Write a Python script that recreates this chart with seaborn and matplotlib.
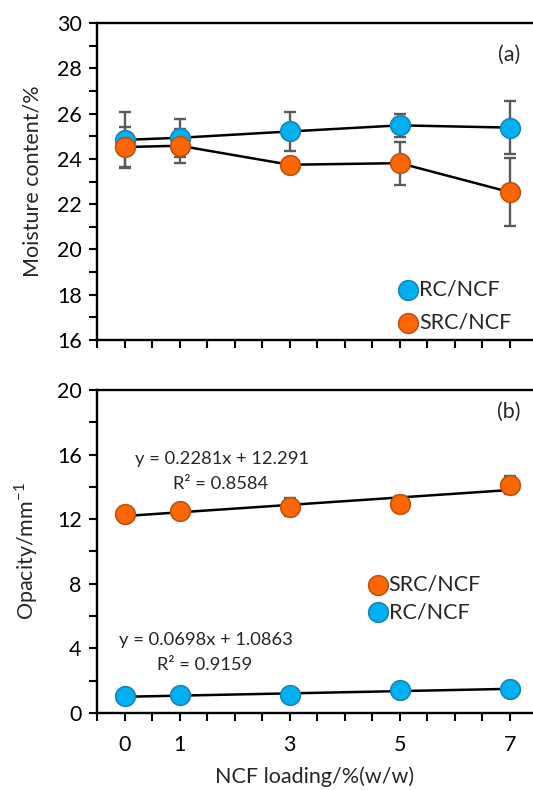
import numpy as np
import pandas as pd
import matplotlib
matplotlib.use("Agg")
import matplotlib.pyplot as plt
import seaborn as sns
from matplotlib.ticker import MultipleLocator, FixedLocator

# ---------------- data ----------------
loading = [0, 1, 3, 5, 7]
rc_moisture = [24.84, 24.93, 25.21, 25.48, 25.38]
rc_moisture_err = [1.25, 0.85, 0.88, 0.50, 1.18]
src_moisture = [24.52, 24.58, 23.74, 23.81, 22.53]
src_moisture_err = [0.90, 0.76, 0.25, 0.95, 1.50]

src_opacity = [12.32, 12.48, 12.77, 12.96, 14.12]
src_opacity_err = [0.45, 0.25, 0.55, 0.50, 0.55]
rc_opacity = [1.03, 1.10, 1.10, 1.41, 1.50]
rc_opacity_err = [0.10, 0.10, 0.10, 0.12, 0.12]

series_names = ["RC/NCF", "SRC/NCF"]
xtick_labels = ["0", "1", "3", "5", "7"]
eq_src = ["y = 0.2281x + 12.291", "R\u00b2 = 0.8584"]
eq_rc = ["y = 0.0698x + 1.0863", "R\u00b2 = 0.9159"]

# ---------------- style ----------------
sns.set_style("ticks")
FONT = ["Lato", "DejaVu Sans"]
plt.rcParams["font.family"] = FONT
plt.rcParams["mathtext.fontset"] = "custom"
plt.rcParams["mathtext.rm"] = "Lato"

BLUE, BLUE_E = "#00B0F0", "#1A84B4"
ORANGE, ORANGE_E = "#FF6600", "#BF5212"
ERRC = "#5A5A5A"
FS = 15.5
FS_EQ = 13.2

fig = plt.figure(figsize=(5.33, 7.90), dpi=100)
ax1 = fig.add_axes([0.182, 0.5696, 0.818, 0.4013])
ax2 = fig.add_axes([0.182, 0.0975, 0.818, 0.4089])

df_m = pd.DataFrame({
    "loading": loading * 2,
    "value": rc_moisture + src_moisture,
    "err": rc_moisture_err + src_moisture_err,
    "series": [series_names[0]] * 5 + [series_names[1]] * 5,
})

pal = {series_names[0]: BLUE, series_names[1]: ORANGE}
edges = {series_names[0]: BLUE_E, series_names[1]: ORANGE_E}

# ----- panel (a) -----
for name in series_names:
    d = df_m[df_m["series"] == name]
    ax1.errorbar(d["loading"], d["value"], yerr=d["err"], fmt="none",
                 ecolor=ERRC, elinewidth=1.7, capsize=4.5, capthick=1.7, zorder=2)
    sns.lineplot(data=d, x="loading", y="value", ax=ax1, color="black",
                 linewidth=1.8, zorder=3, legend=False)
    sns.scatterplot(data=d, x="loading", y="value", ax=ax1, color=pal[name],
                    edgecolor=edges[name], linewidth=1.2, s=200, zorder=4,
                    label=name)

ax1.set_ylim(16, 30)
ax1.yaxis.set_major_locator(MultipleLocator(2))
ax1.yaxis.set_minor_locator(MultipleLocator(1))
ax1.set_ylabel("Moisture content/%", fontsize=FS, labelpad=10)
ax1.set_xlabel("")
ax1.legend(loc="lower left", bbox_to_anchor=(0.655, -0.025), frameon=False,
           fontsize=FS, handletextpad=0.0, labelspacing=0.6,
           borderaxespad=0.3, handlelength=1.0)
ax1.text(0.945, 0.899, "(a)", transform=ax1.transAxes, ha="center", va="center",
         fontsize=FS)

# ----- panel (b) -----
df_o = pd.DataFrame({
    "loading": loading * 2,
    "value": src_opacity + rc_opacity,
    "err": src_opacity_err + rc_opacity_err,
    "series": [series_names[1]] * 5 + [series_names[0]] * 5,
})
for name in [series_names[1], series_names[0]]:
    d = df_o[df_o["series"] == name]
    ax2.errorbar(d["loading"], d["value"], yerr=d["err"], fmt="none",
                 ecolor=ERRC, elinewidth=1.7, capsize=4.5, capthick=1.7, zorder=2)
    sns.regplot(data=d, x="loading", y="value", ax=ax2, ci=None, scatter=False,
                truncate=True, line_kws=dict(color="black", linewidth=1.8, zorder=3))
    sns.scatterplot(data=d, x="loading", y="value", ax=ax2, color=pal[name],
                    edgecolor=edges[name], linewidth=1.2, s=200, zorder=4,
                    label=name)

ax2.set_ylim(0, 20)
ax2.yaxis.set_major_locator(MultipleLocator(4))
ax2.yaxis.set_minor_locator(MultipleLocator(2))
ax2.set_ylabel(r"Opacity/mm$^{\mathregular{-1}}$", fontsize=FS, labelpad=12)
ax2.set_xlabel("NCF loading/%(w/w)", fontsize=FS, labelpad=8)
ax2.legend(loc="center left", bbox_to_anchor=(0.575, 0.355), frameon=False,
           fontsize=FS, handletextpad=0.0, labelspacing=0.35,
           handlelength=1.0)
ax2.text(0.945, 0.932, "(b)", transform=ax2.transAxes, ha="center", va="center",
         fontsize=FS)
ax2.text(0.088, 0.786, eq_src[0], transform=ax2.transAxes, fontsize=FS_EQ, va="center")
ax2.text(0.175, 0.709, eq_src[1], transform=ax2.transAxes, fontsize=FS_EQ, va="center")
ax2.text(0.050, 0.226, eq_rc[0], transform=ax2.transAxes, fontsize=FS_EQ, va="center")
ax2.text(0.137, 0.149, eq_rc[1], transform=ax2.transAxes, fontsize=FS_EQ, va="center")

# ----- shared axis formatting -----
for ax in (ax1, ax2):
    ax.set_xlim(-0.5, 7.42)
    ax.xaxis.set_major_locator(FixedLocator(loading))
    ax.xaxis.set_minor_locator(MultipleLocator(0.5))
    for s in ["left", "bottom", "top"]:
        ax.spines[s].set_visible(True)
        ax.spines[s].set_linewidth(1.7)
        ax.spines[s].set_color("black")
    ax.spines["right"].set_visible(False)
    ax.tick_params(axis="both", which="both", direction="out", length=6,
                   width=1.5, colors="black", labelsize=FS)
    ax.tick_params(axis="y", which="both", pad=5)
    ax.tick_params(axis="x", which="major", pad=10)
    ax.set_facecolor("white")

ax1.set_xticklabels([])
ax2.set_xticklabels(xtick_labels)

fig.savefig("out.png", dpi=100, facecolor="white")
